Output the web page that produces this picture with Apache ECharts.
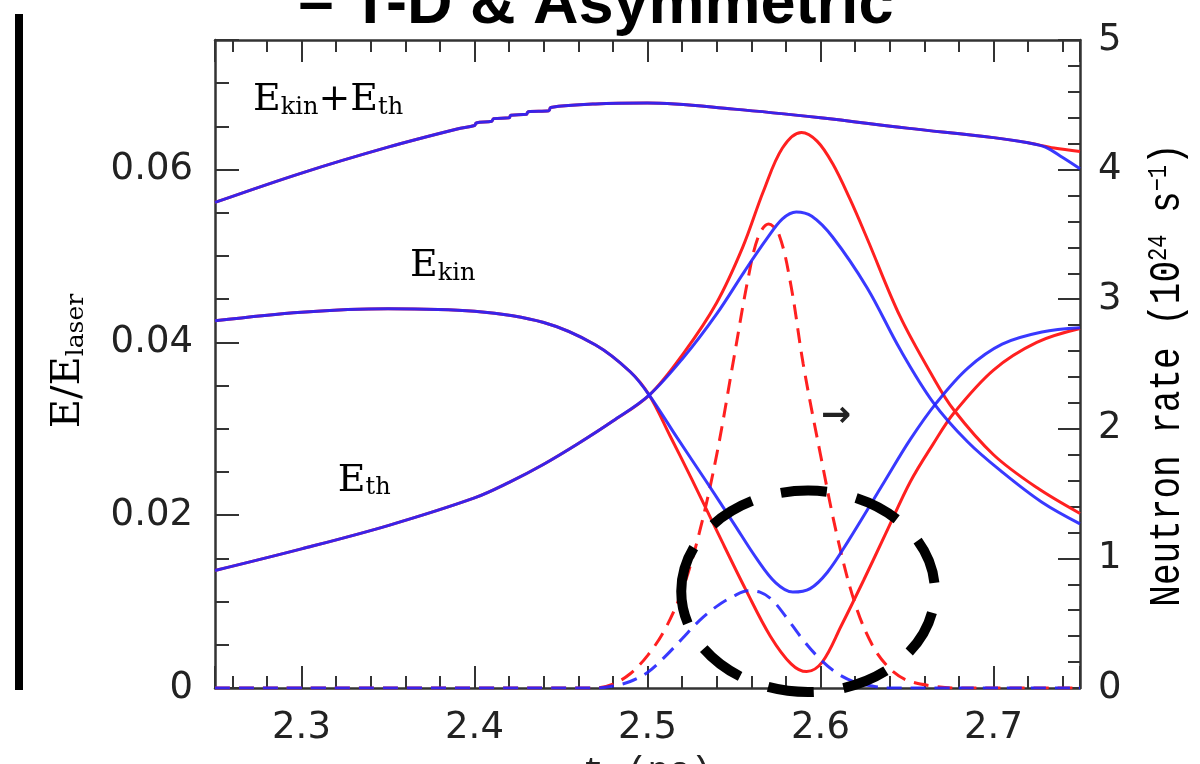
<!DOCTYPE html>
<html>
<head>
<meta charset="UTF-8">
<script src="https://cdn.jsdelivr.net/npm/echarts@6/dist/echarts.min.js"></script>
<style>html,body{margin:0;padding:0;background:#fff;}</style>
</head>
<body>
<div id="main" style="width:1200px;height:764px;"></div>
<script>
// ---- data: [t (ns), value] ----
// E_kin + E_th (left axis)
var totRed = [[2.25,0.0562],[2.30,0.0596],[2.35,0.0626],[2.39,0.0647],[2.40,0.0651],[2.401,0.0654],[2.41,0.0656],[2.411,0.0659],
  [2.42,0.0660],[2.421,0.0663],[2.43,0.0664],[2.431,0.0667],[2.443,0.0668],[2.444,0.0672],[2.47,0.0676],[2.50,0.0677],
  [2.55,0.0670],[2.60,0.0660],[2.65,0.0648],[2.70,0.0637],[2.72,0.0631],[2.735,0.0625],[2.75,0.0621]];
var totBlue = [[2.25,0.0562],[2.30,0.0596],[2.35,0.0626],[2.39,0.0647],[2.40,0.0651],[2.401,0.0654],[2.41,0.0656],[2.411,0.0659],
  [2.42,0.0660],[2.421,0.0663],[2.43,0.0664],[2.431,0.0667],[2.443,0.0668],[2.444,0.0672],[2.47,0.0676],[2.50,0.0677],
  [2.55,0.0670],[2.60,0.0660],[2.65,0.0648],[2.70,0.0637],[2.72,0.0631],[2.73,0.0626],[2.74,0.0614],[2.75,0.0601]];
// E_kin (left axis)
var kinRed = [[2.25,0.0425],[2.30,0.0435],[2.35,0.0439],[2.40,0.0436],[2.44,0.0423],[2.47,0.0397],[2.49,0.0366],[2.501,0.0339],
  [2.513,0.0292],[2.526,0.0240],[2.541,0.0178],[2.557,0.0113],[2.571,0.0060],[2.583,0.0028],[2.592,0.0019],[2.601,0.0030],
  [2.612,0.0072],[2.625,0.0125],[2.638,0.0180],[2.652,0.0239],[2.665,0.0282],[2.677,0.0318],[2.70,0.0368],[2.725,0.0400],
  [2.75,0.0416]];
var kinBlue = [[2.25,0.0425],[2.30,0.0435],[2.35,0.0439],[2.40,0.0436],[2.44,0.0423],[2.47,0.0397],[2.49,0.0366],[2.501,0.0339],
  [2.517,0.0290],[2.534,0.0239],[2.550,0.0190],[2.563,0.0150],[2.574,0.0122],[2.584,0.0111],[2.594,0.0115],[2.604,0.0134],
  [2.616,0.0170],[2.637,0.0239],[2.652,0.0288],[2.667,0.0330],[2.685,0.0370],[2.705,0.0398],[2.728,0.0412],[2.75,0.0417]];
// E_th (left axis)
var thRed = [[2.25,0.0136],[2.30,0.0161],[2.35,0.0188],[2.40,0.0220],[2.42,0.0238],[2.44,0.0259],[2.46,0.0283],[2.48,0.0309],
  [2.501,0.0339],[2.521,0.0388],[2.540,0.0446],[2.555,0.0510],[2.567,0.0575],[2.578,0.0625],[2.589,0.0643],[2.598,0.0633],
  [2.607,0.0607],[2.617,0.0566],[2.627,0.0520],[2.646,0.0430],[2.665,0.0360],[2.677,0.0322],[2.70,0.0270],[2.725,0.0232],
  [2.75,0.0202]];
var thBlue = [[2.25,0.0136],[2.30,0.0161],[2.35,0.0188],[2.40,0.0220],[2.42,0.0238],[2.44,0.0259],[2.46,0.0283],[2.48,0.0309],
  [2.501,0.0339],[2.521,0.0383],[2.540,0.0433],[2.556,0.0482],[2.569,0.0520],[2.578,0.0543],[2.586,0.0551],[2.595,0.0546],
  [2.607,0.0522],[2.627,0.0463],[2.646,0.0392],[2.665,0.0331],[2.685,0.0285],[2.705,0.0250],[2.728,0.0215],[2.75,0.0190]];
// neutron rate (right axis, 10^24 s^-1)
var rateRed = [[2.25,0],[2.47,0],[2.48,0.03],[2.49,0.11],[2.50,0.25],[2.51,0.45],[2.52,0.75],[2.53,1.2],[2.54,1.8],[2.55,2.55],
  [2.558,3.15],[2.564,3.48],[2.570,3.58],[2.576,3.5],[2.583,3.1],[2.59,2.5],[2.60,1.8],[2.61,1.15],[2.62,0.65],[2.63,0.33],
  [2.64,0.15],[2.65,0.06],[2.665,0.015],[2.68,0],[2.75,0]];
var rateBlue = [[2.25,0],[2.47,0],[2.48,0.015],[2.49,0.05],[2.50,0.12],[2.51,0.24],[2.52,0.38],[2.53,0.52],[2.54,0.63],
  [2.55,0.71],[2.558,0.75],[2.565,0.74],[2.572,0.68],[2.58,0.55],[2.59,0.37],[2.60,0.22],[2.61,0.11],[2.62,0.045],
  [2.63,0.015],[2.64,0],[2.75,0]];

var RED = '#ff2020', BLUE = '#2424ff', AX = '#333';

var chart = echarts.init(document.getElementById('main'));

function xAx(pos) {
  var a = {
    type: 'value', position: pos, min: 2.25, max: 2.75, splitNumber: 5,
    axisLine: {show: true, onZero: false, lineStyle: {color: AX, width: 2.5}},
    axisTick: {show: true, inside: true, length: 22, lineStyle: {color: AX, width: 2}},
    minorTick: {show: true, splitNumber: 5, length: 12, lineStyle: {color: AX, width: 2}},
    splitLine: {show: false},
    axisLabel: {show: pos === 'bottom', showMinLabel: false, showMaxLabel: false, margin: 22,
      fontSize: 37, fontFamily: 'DejaVu Sans', color: '#222'}
  };
  if (pos === 'bottom') {
    a.name = 't (ns)';
    a.nameLocation = 'middle';
    a.nameGap = 66;
    a.nameTextStyle = {fontSize: 36, fontFamily: 'Liberation Mono', color: '#222'};
  }
  return a;
}

function line(data, color, yIdx, dashed, z) {
  return {
    type: 'line', data: data, xAxisIndex: 0, yAxisIndex: yIdx, showSymbol: false,
    smooth: 0.35, z: z,
    lineStyle: {color: color, width: 3, type: dashed ? [15, 9] : 'solid', opacity: color === BLUE ? 0.9 : 1}
  };
}

var option = {
  animation: false,
  backgroundColor: '#fff',
  grid: {left: 215, right: 120, top: 40, bottom: 76, outerBoundsMode: 'none'},
  xAxis: [xAx('bottom'), xAx('top')],
  yAxis: [
    {type: 'value', position: 'left', min: 0, max: 0.075, interval: 0.02,
      axisLine: {show: true, onZero: false, lineStyle: {color: AX, width: 2.5}},
      axisTick: {show: true, inside: true, length: 24, lineStyle: {color: AX, width: 2}},
      minorTick: {show: true, splitNumber: 4, length: 14, lineStyle: {color: AX, width: 2}},
      splitLine: {show: false},
      axisLabel: {showMaxLabel: false, margin: 22, fontSize: 37, fontFamily: 'DejaVu Sans', color: '#222'}},
    {type: 'value', position: 'right', min: 0, max: 5, interval: 1,
      axisLine: {show: true, onZero: false, lineStyle: {color: AX, width: 2.5}},
      axisTick: {show: true, inside: true, length: 22, lineStyle: {color: AX, width: 2}},
      minorTick: {show: true, splitNumber: 5, length: 12, lineStyle: {color: AX, width: 2}},
      splitLine: {show: false},
      axisLabel: {margin: 18, fontSize: 37, fontFamily: 'DejaVu Sans', color: '#222'}}
  ],
  series: [
    line(totRed, RED, 0, false, 2), line(kinRed, RED, 0, false, 2), line(thRed, RED, 0, false, 2),
    line(rateRed, RED, 1, true, 2),
    line(totBlue, BLUE, 0, false, 3), line(kinBlue, BLUE, 0, false, 3), line(thBlue, BLUE, 0, false, 3),
    line(rateBlue, BLUE, 1, true, 3)
  ]
};
chart.setOption(option);

// ---- annotations, placed through the axes ----
function px(t, v, yIdx) {
  return chart.convertToPixel({xAxisIndex: 0, yAxisIndex: yIdx}, [t, v]);
}
var serifRich = {
  m: {fontFamily: 'DejaVu Serif', fontSize: 38, lineHeight: 38, verticalAlign: 'top', color: '#222'},
  s: {fontFamily: 'DejaVu Serif', fontSize: 24, lineHeight: 24, verticalAlign: 'bottom', padding: [26, 0, 0, 0], color: '#222'}
};
function curveLabel(t, v, text) {
  var p = px(t, v, 0);
  return {type: 'text', x: p[0], y: p[1] - 19, z: 50,
    style: {text: text, rich: serifRich, align: 'left', verticalAlign: 'top'}};
}

var ellC = px(2.5928, 0.746, 1), ellL = px(2.5195, 0.746, 1), ellT = px(2.5928, 1.523, 1);
var arrowP = px(2.609, 2.09, 1);

chart.setOption({
  graphic: [
    {type: 'rect', shape: {x: 15, y: 14, width: 8, height: 676}, style: {fill: '#000'}, z: 50},
    {type: 'text', x: 596, y: 6, z: 50,
      style: {text: '– T-D & Asymmetric', fontFamily: 'Liberation Sans', fontWeight: 'bold', fontSize: 63,
        fill: '#000', align: 'center', verticalAlign: 'middle'}},
    curveLabel(2.272, 0.0680, '{m|E}{s|kin}{m|+E}{s|th}'),
    curveLabel(2.3627, 0.0488, '{m|E}{s|kin}'),
    curveLabel(2.321, 0.0240, '{m|E}{s|th}'),
    {type: 'text', x: arrowP[0], y: arrowP[1], z: 50,
      style: {text: '→', fontFamily: 'DejaVu Sans', fontWeight: 'bold', fontSize: 36, fill: '#222', align: 'center', verticalAlign: 'middle'}},
    // left axis name
    {type: 'text', x: 69, y: 361, rotation: Math.PI / 2, z: 50,
      style: {text: '{m|E/E}{s|laser}', align: 'center', verticalAlign: 'middle',
        rich: {
          m: {fontFamily: 'DejaVu Serif', fontSize: 40, lineHeight: 40, verticalAlign: 'top', color: '#222'},
          s: {fontFamily: 'DejaVu Serif', fontSize: 25, lineHeight: 25, verticalAlign: 'bottom', padding: [27, 0, 0, 0], color: '#222'}
        }}},
    // right axis name
    {type: 'text', x: 1167, y: 375, rotation: Math.PI / 2, scaleY: 1.25, z: 50,
      style: {text: '{m|Neutron rate (10}{p|24}{m| s}{p|−1}{m|)}', align: 'center', verticalAlign: 'middle',
        rich: {
          m: {fontFamily: 'Liberation Mono', fontSize: 36, lineHeight: 36, verticalAlign: 'bottom', padding: [10, 0, 0, 0], color: '#222'},
          p: {fontFamily: 'Liberation Mono', fontSize: 22, lineHeight: 22, verticalAlign: 'top', color: '#222'}
        }}},
    // dashed highlight ellipse
    {type: 'ellipse', z: 60,
      shape: {cx: ellC[0], cy: ellC[1], rx: ellC[0] - ellL[0], ry: ellC[1] - ellT[1]},
      style: {fill: 'none', stroke: '#000', lineWidth: 10, lineDash: [46, 30]}}
  ]
});
</script>
</body>
</html>
